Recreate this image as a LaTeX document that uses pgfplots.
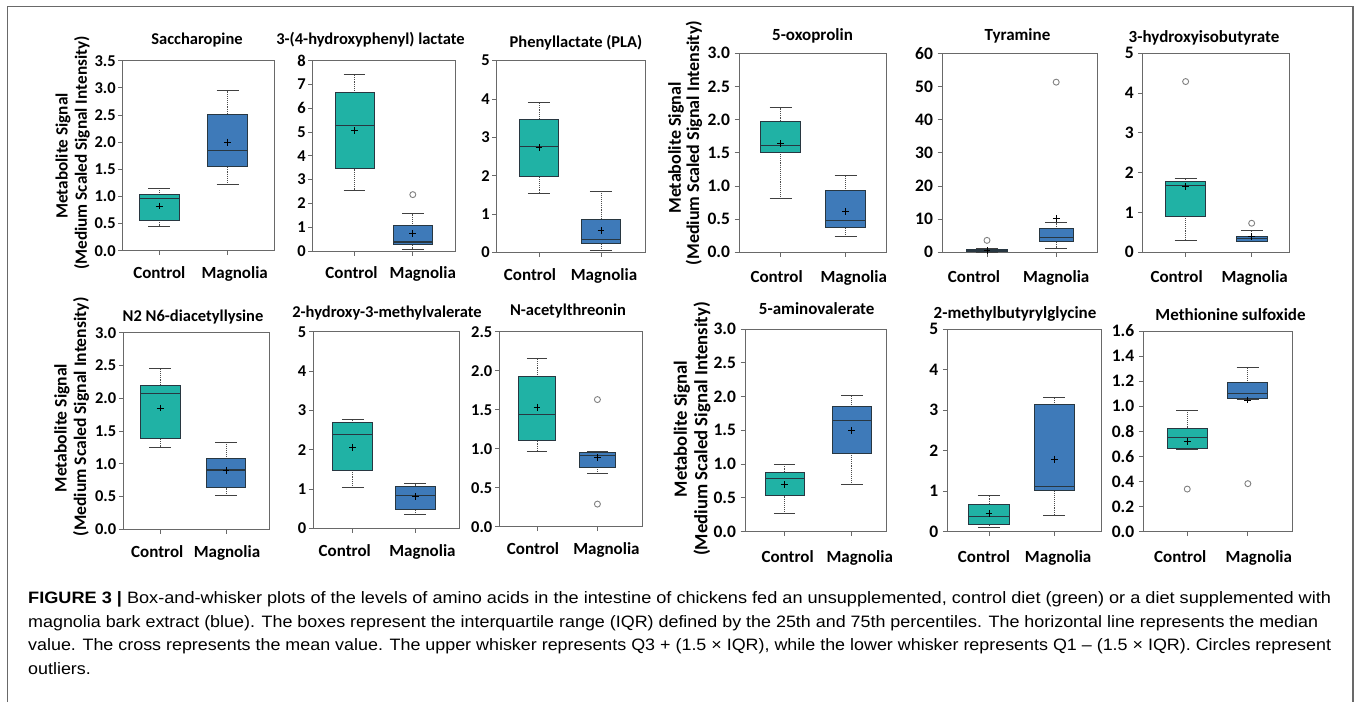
\documentclass[border=0pt]{standalone}
\usepackage{pgfplots}
\pgfplotsset{compat=1.18}
\usepgfplotslibrary{statistics}
\usepackage{graphicx}
\usepackage{fontspec}
\setmainfont{Carlito}
\newfontfamily\capfont{Liberation Sans}
\definecolor{ctrl}{RGB}{32,178,165}
\definecolor{mag}{RGB}{62,122,185}
\definecolor{framegray}{RGB}{105,105,105}
\definecolor{boxedge}{RGB}{40,55,65}

\pgfplotsset{
  boxplot/draw/lower whisker/.code={%
    \draw[densely dotted, black!70, line width=0.9pt]
      (boxplot box cs:\pgfplotsboxplotvalue{lower whisker},0.5) --
      (boxplot box cs:\pgfplotsboxplotvalue{lower quartile},0.5);
    \draw[solid, black!75, line width=0.9pt]
      (boxplot whisker cs:\pgfplotsboxplotvalue{lower whisker},0) --
      (boxplot whisker cs:\pgfplotsboxplotvalue{lower whisker},1);
  },
  boxplot/draw/upper whisker/.code={%
    \draw[densely dotted, black!70, line width=0.9pt]
      (boxplot box cs:\pgfplotsboxplotvalue{upper quartile},0.5) --
      (boxplot box cs:\pgfplotsboxplotvalue{upper whisker},0.5);
    \draw[solid, black!75, line width=0.9pt]
      (boxplot whisker cs:\pgfplotsboxplotvalue{upper whisker},0) --
      (boxplot whisker cs:\pgfplotsboxplotvalue{upper whisker},1);
  },
  boxplot/draw/median/.code={%
    \draw[solid, draw=boxedge, line width=1.3pt]
      (boxplot box cs:\pgfplotsboxplotvalue{median},0) --
      (boxplot box cs:\pgfplotsboxplotvalue{median},1);
  },
  panel/.style={
    scale only axis, anchor=north west, clip=false,
    boxplot/draw direction=y,
    axis line style={draw=framegray, line width=1pt},
    xtick={1,2},
    xtick pos=bottom, ytick pos=left, tick align=outside,
    major tick length=4.5pt,
    tick style={draw=framegray, line width=0.9pt},
    ymin=0,
    /pgf/number format/assume math mode=true,
    yticklabel style={font=\bfseries\fontsize{16.5}{19}\selectfont, xshift=1pt},
    xticklabel style={font=\bfseries\fontsize{17}{19}\selectfont, yshift=-8pt},
  },
  rpanel/.style={panel,
    yticklabel style={font=\bfseries\fontsize{17.5}{20}\selectfont, xshift=-2pt},
    xticklabel style={yshift=-2.5pt}},
  onedec/.style={yticklabel style={/pgf/number format/.cd, fixed, fixed zerofill, precision=1}},
}
\tikzset{ttl/.style={font=\bfseries\fontsize{16.5}{19}\selectfont, anchor=base, inner sep=0pt}}

% tick label shifted sideways by #2 pt from its tick
\newcommand{\sh}[2]{\makebox[0pt]{\hspace*{#2pt}\hspace*{#2pt}#1}}

% \bx[extra]{pos}{colour}{lower whisker}{Q1}{median}{Q3}{upper whisker}{mean}
\newcommand{\bx}[9][]{%
  \addplot[draw=boxedge, boxplot prepared={draw position=#2, lower whisker=#4, lower quartile=#5,
      median=#6, upper quartile=#7, upper whisker=#8},
    boxplot/every box/.style={fill=#3, draw=boxedge, line width=0.9pt}, #1] coordinates {};
  \addplot[only marks, mark=+, mark size=3.4pt, black, mark options={line width=0.9pt}] coordinates {(#2,#9)};
}
\newcommand{\outl}[2]{%
  \addplot[only marks, mark=o, mark size=3pt, mark options={draw=black!50, line width=0.9pt, fill=white}] coordinates {(#1,#2)};
}

\newsavebox\capbox
\newlength\capw
\newcommand{\fitline}[2]{% target width, text
  \sbox\capbox{\capfont\fontsize{16.5}{19}\selectfont #2}%
  \capw=\wd\capbox
  \pgfmathsetmacro\capsx{#1/\the\capw}%
  \xdef\lastcapsx{\capsx}%
  \scalebox{\capsx}[1]{\usebox\capbox}%
}
\newcommand{\capline}[4]{% x, baseline y, target width, text
  \node[anchor=base west, inner sep=0pt] at (#1pt,-#2pt) {\fitline{#3}{#4}};
}
\newcommand{\caplinefixed}[3]{%
  \node[anchor=base west, inner sep=0pt] at (#1pt,-#2pt) {\scalebox{\lastcapsx}[1]{\capfont\fontsize{16.5}{19}\selectfont #3}};
}

\begin{document}
\begin{tikzpicture}[x=1pt,y=1pt]
\useasboundingbox (0,0) rectangle (1357,-702);
\draw[framegray, line width=1.8pt] (7.5,-702) -- (7.5,-6.5) -- (1353,-6.5) -- (1353,-702);

% ---------------- Row 1, left group ----------------
\begin{axis}[panel, at={(122.7pt,-60.7pt)}, width=151.3pt, height=190pt,
  xmin=0.464, xmax=2.678, ymax=3.5, ytick={0,0.5,1,1.5,2,2.5,3,3.5}, onedec,
  xticklabels={\sh{Control}{0},\sh{Magnolia}{7}},
  boxplot/box extend=0.58, boxplot/whisker extend=0.32]
\bx{1}{ctrl}{0.448}{0.565}{0.964}{1.037}{1.148}{0.823}
\bx{2}{mag}{1.215}{1.559}{1.848}{2.517}{2.947}{2.0}
\end{axis}

\begin{axis}[panel, at={(312.7pt,-60.7pt)}, width=143pt, height=190.3pt,
  xmin=0.283, xmax=2.736, ymax=8, ytick={0,1,2,3,4,5,6,7,8},
  xticklabels={\sh{Control}{-3},\sh{Magnolia}{10}},
  boxplot/box extend=0.67, boxplot/whisker extend=0.37]
\bx{1}{ctrl}{2.55}{3.45}{5.29}{6.65}{7.44}{5.07}
\bx{2}{mag}{0.07}{0.28}{0.38}{1.06}{1.57}{0.74}
\outl{2}{2.37}
\end{axis}

\begin{axis}[panel, at={(496.7pt,-60.7pt)}, width=148.3pt, height=191.6pt,
  xmin=0.318, xmax=2.71, ymax=5, ytick={0,1,2,3,4,5},
  xticklabels={\sh{Control}{-9},\sh{Magnolia}{3}},
  boxplot/box extend=0.63, boxplot/whisker extend=0.36]
\bx{1}{ctrl}{1.54}{1.97}{2.76}{3.48}{3.92}{2.73}
\bx{2}{mag}{0.04}{0.23}{0.33}{0.87}{1.60}{0.57}
\end{axis}

% ---------------- Row 1, right group ----------------
\begin{axis}[rpanel, at={(739pt,-53.3pt)}, width=147.7pt, height=199pt,
  xmin=0.36, xmax=2.63, ymax=3, ytick={0,0.5,1,1.5,2,2.5,3}, onedec,
  xticklabels={\sh{Control}{-4},\sh{Magnolia}{8}},
  boxplot/box extend=0.615, boxplot/whisker extend=0.34]
\bx{1}{ctrl}{0.81}{1.51}{1.61}{1.975}{2.18}{1.64}
\bx{2}{mag}{0.236}{0.38}{0.48}{0.93}{1.156}{0.62}
\end{axis}

\begin{axis}[rpanel, at={(942pt,-53.3pt)}, width=155.7pt, height=199pt,
  xmin=0.35, xmax=2.6, ymax=60, ytick={0,10,20,30,40,50,60},
  xticklabels={\sh{Control}{-13},\sh{Magnolia}{0}},
  boxplot/box extend=0.58, boxplot/whisker extend=0.32]
\bx{1}{ctrl}{0.05}{0.35}{0.6}{0.9}{1.1}{0.5}
\outl{1}{3.6}
\bx[boxplot/box extend=0.49]{2}{mag}{1.2}{3.3}{4.4}{7.1}{8.9}{10.25}
\outl{2}{51.3}
\end{axis}

\begin{axis}[rpanel, at={(1142.7pt,-53.3pt)}, width=146.6pt, height=199pt,
  xmin=0.35, xmax=2.57, ymax=5, ytick={0,1,2,3,4,5},
  xticklabels={\sh{Control}{-9},\sh{Magnolia}{3}},
  boxplot/box extend=0.6, boxplot/whisker extend=0.33]
\bx{1}{ctrl}{0.31}{0.90}{1.67}{1.77}{1.86}{1.65}
\outl{1}{4.29}
\bx[boxplot/box extend=0.47]{2}{mag}{0.27}{0.28}{0.35}{0.41}{0.54}{0.39}
\outl{2}{0.73}
\end{axis}

% ---------------- Row 2, left group ----------------
\begin{axis}[panel, at={(123.3pt,-332.7pt)}, width=146pt, height=196.6pt,
  xmin=0.437, xmax=2.66, ymax=3, ytick={0,0.5,1,1.5,2,2.5,3}, onedec,
  xticklabels={\sh{Control}{-3},\sh{Magnolia}{1}},
  boxplot/box extend=0.6, boxplot/whisker extend=0.33]
\bx{1}{ctrl}{1.25}{1.39}{2.07}{2.20}{2.46}{1.85}
\bx{2}{mag}{0.51}{0.635}{0.905}{1.08}{1.33}{0.895}
\end{axis}

\begin{axis}[panel, at={(313.3pt,-331.7pt)}, width=146pt, height=196.6pt,
  xmin=0.37, xmax=2.70, ymax=5, ytick={0,1,2,3,4,5},
  xticklabels={\sh{Control}{-8},\sh{Magnolia}{7}},
  boxplot/box extend=0.64, boxplot/whisker extend=0.35]
\bx{1}{ctrl}{1.03}{1.46}{2.38}{2.68}{2.77}{2.06}
\bx{2}{mag}{0.34}{0.48}{0.84}{1.07}{1.13}{0.80}
\end{axis}

\begin{axis}[panel, at={(499.3pt,-331.7pt)}, width=143.4pt, height=195pt,
  xmin=0.375, xmax=2.75, ymax=2.5, ytick={0,0.5,1,1.5,2,2.5}, onedec,
  xticklabels={\sh{Control}{-4},\sh{Magnolia}{9}},
  boxplot/box extend=0.61, boxplot/whisker extend=0.34]
\bx{1}{ctrl}{0.97}{1.11}{1.44}{1.92}{2.16}{1.53}
\bx{2}{mag}{0.68}{0.76}{0.91}{0.95}{0.96}{0.89}
\outl{2}{1.63}
\outl{2}{0.29}
\end{axis}

% ---------------- Row 2, right group ----------------
\begin{axis}[rpanel, at={(745pt,-329pt)}, width=141.7pt, height=202.7pt,
  xmin=0.41, xmax=2.52, ymax=3, ytick={0,0.5,1,1.5,2,2.5,3}, onedec,
  xticklabels={\sh{Control}{3},\sh{Magnolia}{8}},
  boxplot/box extend=0.58, boxplot/whisker extend=0.32]
\bx{1}{ctrl}{0.27}{0.53}{0.79}{0.88}{0.997}{0.70}
\bx{2}{mag}{0.70}{1.16}{1.65}{1.85}{2.02}{1.50}
\end{axis}

\begin{axis}[rpanel, at={(947.3pt,-329pt)}, width=154.4pt, height=202.7pt,
  xmin=0.36, xmax=2.73, ymax=5, ytick={0,1,2,3,4,5},
  xticklabels={\sh{Control}{-5},\sh{Magnolia}{4}},
  boxplot/box extend=0.62, boxplot/whisker extend=0.34]
\bx{1}{ctrl}{0.10}{0.17}{0.37}{0.68}{0.89}{0.44}
\bx{2}{mag}{0.41}{1.03}{1.11}{3.13}{3.32}{1.79}
\end{axis}

\begin{axis}[rpanel, at={(1143.3pt,-331pt)}, width=149.4pt, height=200.7pt,
  xmin=0.275, xmax=2.74, ymax=1.6, ytick={0,0.2,0.4,0.6,0.8,1,1.2,1.4,1.6}, onedec,
  xticklabels={\sh{Control}{-7},\sh{Magnolia}{11}},
  boxplot/box extend=0.66, boxplot/whisker extend=0.37]
\bx{1}{ctrl}{0.655}{0.66}{0.75}{0.824}{0.97}{0.72}
\outl{1}{0.34}
\bx{2}{mag}{1.058}{1.066}{1.10}{1.19}{1.31}{1.05}
\outl{2}{0.383}
\end{axis}

% ---------------- Titles ----------------
\node[ttl] at (197,-44.5) {Saccharopine};
\node[ttl] at (370.5,-44.5) {3-(4-hydroxyphenyl) lactate};
\node[ttl] at (576,-47) {Phenyllactate (PLA)};
\node[ttl, font=\bfseries\fontsize{17}{19}\selectfont] at (812.5,-40.5) {5-oxoprolin};
\node[ttl, font=\bfseries\fontsize{17}{19}\selectfont] at (1017.5,-40.5) {Tyramine};
\node[ttl, font=\bfseries\fontsize{17}{19}\selectfont] at (1204,-42) {3-hydroxyisobutyrate};
\node[ttl] at (193,-321) {N2 N6-diacetyllysine};
\node[ttl] at (387,-317) {2-hydroxy-3-methylvalerate};
\node[ttl] at (568,-315.5) {N-acetylthreonin};
\node[ttl, font=\bfseries\fontsize{17}{19}\selectfont] at (816.7,-314.8) {5-aminovalerate};
\node[ttl, font=\bfseries\fontsize{17}{19}\selectfont] at (1015,-318) {2-methylbutyrylglycine};
\node[ttl, font=\bfseries\fontsize{17}{19}\selectfont] at (1230.5,-320.5) {Methionine sulfoxide};

% ---------------- Y axis labels ----------------
\begin{scope}[every node/.style={rotate=90, inner sep=0pt, anchor=center}]
\node[font=\bfseries\fontsize{17.2}{19}\selectfont] at (63,-156) {Metabolite Signal};
\node[font=\bfseries\fontsize{17.2}{19}\selectfont] at (82,-153) {(Medium Scaled Signal Intensity)};
\node[font=\bfseries\fontsize{17.6}{19}\selectfont] at (62,-428) {Metabolite Signal};
\node[font=\bfseries\fontsize{17.6}{19}\selectfont] at (81,-417) {(Medium Scaled Signal Intensity)};
\node[font=\bfseries\fontsize{18}{19}\selectfont] at (676,-148) {Metabolite Signal};
\node[font=\bfseries\fontsize{18}{19}\selectfont] at (694,-143) {(Medium Scaled Signal Intensity)};
\node[font=\bfseries\fontsize{18.7}{19}\selectfont] at (682,-429) {Metabolite Signal};
\node[font=\bfseries\fontsize{18.7}{19}\selectfont] at (702,-429) {(Medium Scaled Signal Intensity)};
\end{scope}

% ---------------- Caption ----------------
\capline{28}{603.5}{1303}{\textbf{FIGURE 3 |} Box-and-whisker plots of the levels of amino acids in the intestine of chickens fed an unsupplemented, control diet (green) or a diet supplemented with}
\capline{28}{627}{1290}{magnolia bark extract (blue). The boxes represent the interquartile range (IQR) defined by the 25th and 75th percentiles. The horizontal line represents the median}
\capline{28}{650.5}{1303}{value. The cross represents the mean value. The upper whisker represents Q3 + (1.5 × IQR), while the lower whisker represents Q1 – (1.5 × IQR). Circles represent}
\caplinefixed{28}{674}{outliers.}
\end{tikzpicture}
\end{document}
